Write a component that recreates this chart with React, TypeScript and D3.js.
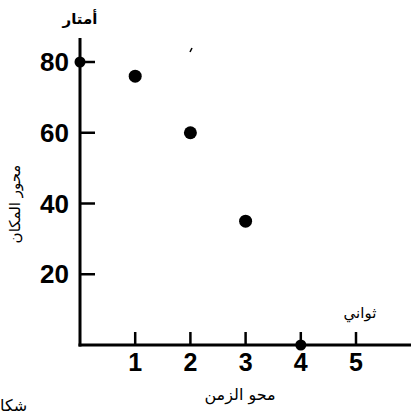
import React from "react";
import * as d3 from "d3";

const times = [0, 1, 2, 3, 4];
const positions = [80, 76, 60, 35, 0];
const xTicks = [1, 2, 3, 4, 5];
const yTicks = [20, 40, 60, 80];
const yUnit = "أمتار";
const yTitle = "محور المكان";
const xUnit = "ثواني";
const xTitle = "محو الزمن";
const caption = "شكا";

export default function App() {
  const W = 411, H = 415;
  const x = d3.scaleLinear().domain([0, 5]).range([80, 356]);
  const y = d3.scaleLinear().domain([0, 80]).range([345, 62]);
  const num = "'Liberation Sans', Arial, sans-serif";
  const ar = "'DejaVu Sans', sans-serif";
  return (
    <svg width={W} height={H} style={{ position: "absolute", left: 0, top: 0, background: "#fff" }}>
      <line x1={x(0)} x2={x(0)} y1={38} y2={y(0) + 1.5} stroke="#000" strokeWidth={3} />
      <line x1={x(0) - 1.5} x2={411} y1={y(0)} y2={y(0)} stroke="#000" strokeWidth={3} />
      {yTicks.map((t) => (
        <g key={"y" + t}>
          <line x1={x(0)} x2={x(0) + 15} y1={y(t)} y2={y(t)} stroke="#000" strokeWidth={2.5} />
          <text x={x(0) - 11} y={y(t)} textAnchor="end" dominantBaseline="central" fontFamily={num} fontWeight="bold" fontSize={26} fill="#000">{t}</text>
        </g>
      ))}
      {xTicks.map((t) => (
        <g key={"x" + t}>
          <line x1={x(t)} x2={x(t)} y1={y(0)} y2={y(0) - 13} stroke="#000" strokeWidth={2.5} />
          <text x={x(t)} y={y(0) + 26} textAnchor="middle" fontFamily={num} fontWeight="bold" fontSize={25} fill="#000">{t}</text>
        </g>
      ))}
      {times.map((t, i) => (
        <circle key={"p" + i} cx={x(t)} cy={y(positions[i])} r={i === 0 || i === 4 ? 5.5 : 6.5} fill="#000" />
      ))}
      <line x1={190} y1={52} x2={192} y2={48} stroke="#000" strokeWidth={1.5} />
      <text x={80} y={24} textAnchor="middle" fontFamily={ar} fontWeight="bold" fontSize={15} fill="#000">{yUnit}</text>
      <text transform={`translate(20,204) rotate(-90)`} textAnchor="middle" fontFamily={ar} fontSize={15} fill="#000">{yTitle}</text>
      <text x={360} y={318} textAnchor="middle" fontFamily={ar} fontSize={15} fill="#000">{xUnit}</text>
      <text x={240} y={400} textAnchor="middle" fontFamily={ar} fontSize={16} fill="#000">{xTitle}</text>
      <text x={0} y={411} textAnchor="start" fontFamily={ar} fontSize={16} fill="#000">{caption}</text>
    </svg>
  );
}
